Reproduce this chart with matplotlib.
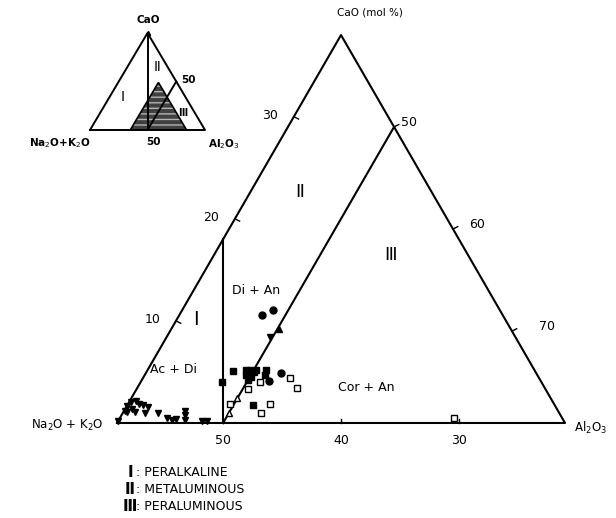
import numpy as np
import matplotlib.pyplot as plt

# plotted compositions, mol % (CaO, Al2O3); Na2O+K2O is the remainder
tri_down_cao = [0.2, 2.1, 2.2, 1.7, 1.2, 1.4, 1.9, 1.8, 1.6, 1.1, 1.1, 1.0, 1.0, 0.5, 0.3, 0.4, 1.2, 0.8, 0.3, 0.2, 0.2, 8.4]
tri_down_al = [41.0, 41.1, 41.5, 41.0, 41.1, 41.6, 41.9, 42.3, 42.8, 41.3, 42.0, 42.9, 44.0, 45.0, 45.5, 45.8, 46.2, 46.4, 46.6, 48.1, 48.5, 49.8]

sq_fill_cao = [4.0, 5.1, 5.2, 5.2, 5.0, 5.2, 4.7, 4.5, 4.2, 1.8, 5.2, 4.7]
sq_fill_al = [47.9, 48.3, 49.3, 49.7, 50.1, 50.2, 49.6, 50.1, 50.0, 51.6, 51.0, 51.2]

circ_cao = [10.6, 11.1, 4.1, 4.9]
circ_al = [48.0, 48.7, 51.8, 52.5]

tri_up_cao = [9.2]
tri_up_al = [50.1]

sq_open_cao = [4.0, 4.4, 3.4, 3.3, 1.9, 1.9, 1.0, 0.5]
sq_open_al = [51.1, 53.5, 54.6, 50.5, 49.6, 53.0, 52.7, 69.3]

tri_open_cao = [2.4, 1.0]
tri_open_al = [50.0, 50.0]

# bounds of the enlarged part of the diagram
al_min, nk_min = 41, 21
cao_max = 100 - al_min - nk_min
# same part as drawn on the small key triangle
key_al_min, key_nk_min = 35, 16
key_cao_max = 100 - key_al_min - key_nk_min

base_ticks = [50, 40, 30]      # Na2O+K2O
left_ticks = [10, 20, 30]      # CaO
right_ticks = [50, 60, 70]     # Al2O3
right_dx = [1.3, 2.0, 3.0]

S3 = np.sqrt(3) / 2


def tern(cao, al):
    cao = np.asarray(cao, float)
    al = np.asarray(al, float)
    return al + cao / 2, cao * S3


def seg(ax, p, q, **kw):
    ax.plot([p[0], q[0]], [p[1], q[1]], color="k", **kw)


fig = plt.figure(figsize=(6.16, 5.18), dpi=100)
ax = fig.add_axes([0, 0, 1, 1])
ax.set_xlim(31.08, 83.32)
ax.set_ylim(-8.06, 35.88)
ax.set_aspect("equal")
ax.axis("off")

lw = 1.5
fs = 9
corners = [tern(0, al_min), tern(0, 100 - nk_min), tern(cao_max, al_min), tern(0, al_min)]
ax.plot([c[0] for c in corners], [c[1] for c in corners], color="k", lw=lw)

# Al2O3 = Na2O+K2O  and  Al2O3 = CaO+Na2O+K2O
seg(ax, tern(0, 50), tern(100 - 2 * al_min, al_min), lw=lw)
seg(ax, tern(0, 50), tern(100 - 50 - nk_min, 50), lw=lw)

for nk in base_ticks:
    x, y = tern(0, 100 - nk)
    seg(ax, (x, y), (x, y + 0.35), lw=1.0)
    ax.text(x, y - 1.45, str(nk), ha="center", va="center", fontsize=fs)
for c in left_ticks:
    x, y = tern(c, al_min)
    seg(ax, (x, y), (x + 0.4, y - 0.2), lw=1.0)
    ax.text(x - 2.0, y + 0.1, str(c), ha="center", va="center", fontsize=fs)
for al, dx in zip(right_ticks, right_dx):
    x, y = tern(100 - al - nk_min, al)
    seg(ax, (x, y), (x + 0.4, y + 0.2), lw=1.0)
    ax.text(x + dx, y + 0.4, str(al), ha="center", va="center", fontsize=fs)

ax.text(62.46, 34.86, "CaO (mol %)", ha="center", va="center", fontsize=7.5)
ax.text(39.8, -0.25, "Na$_2$O + K$_2$O", ha="right", va="center", fontsize=8.5)
ax.text(79.8, -0.45, "Al$_2$O$_3$", ha="left", va="center", fontsize=8.5)

ax.text(47.7, 8.74, "Ⅰ", ha="center", va="center", fontsize=14)
ax.text(56.52, 19.59, "Ⅱ", ha="center", va="center", fontsize=13)
ax.text(64.16, 14.25, "Ⅲ", ha="center", va="center", fontsize=13)
ax.text(52.79, 11.28, "Di + An", ha="center", va="center", fontsize=fs)
ax.text(45.75, 4.5, "Ac + Di", ha="center", va="center", fontsize=fs)
ax.text(62.12, 3.05, "Cor + An", ha="center", va="center", fontsize=fs)

ms = 5
ax.plot(*tern(tri_down_cao, tri_down_al), "v", color="k", ms=ms, ls="none")
ax.plot(*tern(sq_fill_cao, sq_fill_al), "s", color="k", ms=ms, ls="none")
ax.plot(*tern(circ_cao, circ_al), "o", color="k", ms=ms, ls="none")
ax.plot(*tern(tri_up_cao, tri_up_al), "^", color="k", ms=ms, ls="none")
ax.plot(*tern(sq_open_cao, sq_open_al), "s", mfc="white", mec="k", mew=1.0, ms=ms, ls="none")
ax.plot(*tern(tri_open_cao, tri_open_al), "^", mfc="white", mec="k", mew=1.0, ms=ms, ls="none")

# key to the rock types
for i, (num, name) in enumerate([("Ⅰ", "PERALKALINE"), ("Ⅱ", "METALUMINOUS"), ("Ⅲ", "PERALUMINOUS")]):
    yy = -4.24 - 1.42 * i
    ax.text(42.1, yy, num, ha="center", va="center", fontsize=11, fontweight="bold")
    ax.text(42.65, yy, ": " + name, ha="left", va="center", fontsize=9)

# small key triangle with the enlarged part shaded
ins = fig.add_axes([90 / 616, 388 / 518, 115 / 616, 97 / 518])
ins.set_xlim(0, 100)
ins.set_ylim(0, 86.6)
ins.axis("off")
full = [tern(0, 0), tern(0, 100), tern(100, 0), tern(0, 0)]
part = [tern(0, key_al_min), tern(0, 100 - key_nk_min), tern(key_cao_max, key_al_min)]
ins.fill([p[0] for p in part], [p[1] for p in part], facecolor="0.25", edgecolor="0.7",
         hatch="---", lw=0)
ins.fill([p[0] for p in part], [p[1] for p in part], facecolor="none", edgecolor="k", lw=1.2)
ins.plot([p[0] for p in full], [p[1] for p in full], color="k", lw=1.4, clip_on=False)
seg(ins, tern(0, 50), tern(100, 0), lw=1.4)
seg(ins, tern(0, 50), tern(50, 50), lw=1.4)
ins.plot(*tern(100, 0), "^", color="k", ms=3, clip_on=False)

kfs = 7.5
ins.text(50.4, 98.2, "CaO", ha="center", va="center", fontsize=kfs, fontweight="bold", clip_on=False)
ins.text(-26, -11.6, "Na$_2$O+K$_2$O", ha="center", va="center", fontsize=kfs, fontweight="bold", clip_on=False)
ins.text(54.8, -10.7, "50", ha="center", va="center", fontsize=kfs, fontweight="bold", clip_on=False)
ins.text(102.6, -13, "Al$_2$O$_3$", ha="left", va="center", fontsize=kfs, fontweight="bold", clip_on=False)
ins.text(28.7, 29.5, "Ⅰ", ha="center", va="center", fontsize=10, clip_on=False)
ins.text(58.3, 56.3, "Ⅱ", ha="center", va="center", fontsize=10, clip_on=False)
ins.text(80.9, 15.2, "Ⅲ", ha="center", va="center", fontsize=7, fontweight="bold", clip_on=False)
ins.text(85.2, 44.6, "50", ha="center", va="center", fontsize=kfs, fontweight="bold", clip_on=False)

fig.savefig("out.png", dpi=100)
